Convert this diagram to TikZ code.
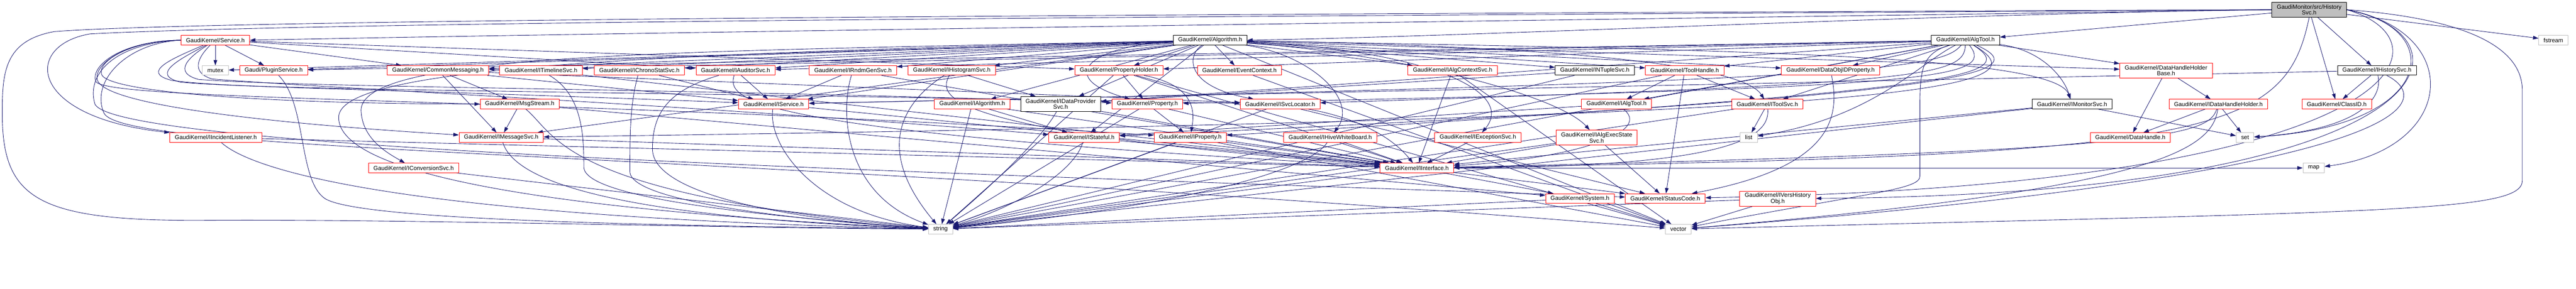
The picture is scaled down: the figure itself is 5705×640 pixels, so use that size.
\documentclass[tikz,border=0pt]{standalone}
\usepackage{fontspec}
\setmainfont{Liberation Sans}
\usepackage{xcolor}
\usepackage{tikz}
\usetikzlibrary{arrows.meta}

\definecolor{edgeblue}{HTML}{191970}
\definecolor{boxred}{HTML}{FF0000}
\definecolor{boxgray}{HTML}{BFBFBF}

\pgfdeclarelayer{edges}
\pgfsetlayers{edges,main}

\begin{document}
\begin{tikzpicture}[
        x=1pt, y=-1pt,
        box/.style={rectangle, draw, fill=white, line width=1pt, font=\fontsize{13}{13}\selectfont, inner xsep=11pt, inner ysep=2pt, minimum height=21pt, align=center},
        redbox/.style={box, draw=boxred},
        blackbox/.style={box, draw=black},
        graybox/.style={box, draw=boxgray},
        rootbox/.style={box, draw=black, fill=boxgray},
        twoline/.style={minimum height=33pt},
        arrow/.style={-{Triangle[length=12pt,width=8pt]}, draw=edgeblue, line width=1pt}
    ]
        \path[use as bounding box] (0,0) rectangle (5705,640);

        % Nodes
        \node[rootbox, twoline] (hist) at (5114,21.5) {GaudiMonitor/src/History\\Svc.h};
        \node[redbox] (svc) at (477,89) {GaudiKernel/Service.h};
        \node[blackbox] (alg) at (2680,89) {GaudiKernel/Algorithm.h};
        \node[blackbox] (algtool) at (4353,89) {GaudiKernel/AlgTool.h};
        \node[graybox] (fstream) at (5655,89) {fstream};

        \node[graybox] (mutex) at (477,156) {mutex};
        \node[redbox] (plugin) at (606,156) {Gaudi/PluginService.h};
        \node[redbox] (commsg) at (970,156) {GaudiKernel/CommonMessaging.h};
        \node[redbox] (itimeline) at (1198,156) {GaudiKernel/ITimelineSvc.h};
        \node[redbox] (ichrono) at (1416,156) {GaudiKernel/IChronoStatSvc.h};
        \node[redbox] (iauditor) at (1629,156) {GaudiKernel/IAuditorSvc.h};
        \node[redbox] (irndm) at (1889,156) {GaudiKernel/IRndmGenSvc.h};
        \node[redbox] (ihisto) at (2108,156) {GaudiKernel/IHistogramSvc.h};
        \node[redbox] (propholder) at (2478,156) {GaudiKernel/PropertyHolder.h};
        \node[redbox] (evtctx) at (2745,156) {GaudiKernel/EventContext.h};
        \node[redbox] (ialgctx) at (3217,156) {GaudiKernel/IAlgContextSvc.h};
        \node[blackbox] (intuple) at (3532,156) {GaudiKernel/INTupleSvc.h};
        \node[redbox] (toolhandle) at (3731,156) {GaudiKernel/ToolHandle.h};
        \node[redbox] (dataobjid) at (4054,156) {GaudiKernel/DataObjIDProperty.h};
        \node[redbox, twoline] (dhhbase) at (4797,156.5) {GaudiKernel/DataHandleHolder\\Base.h};
        \node[blackbox] (ihistsvc) at (5264,156) {GaudiKernel/IHistorySvc.h};

        \node[redbox] (msgstream) at (1151,230.5) {GaudiKernel/MsgStream.h};
        \node[redbox] (iservice) at (1713,230.5) {GaudiKernel/IService.h};
        \node[redbox] (ialgorithm) at (2153,230.5) {GaudiKernel/IAlgorithm.h};
        \node[blackbox, twoline] (idataprov) at (2349,230.5) {GaudiKernel/IDataProvider\\Svc.h};
        \node[redbox] (property) at (2541,230.5) {GaudiKernel/Property.h};
        \node[redbox] (isvcloc) at (2835,230.5) {GaudiKernel/ISvcLocator.h};
        \node[redbox] (ialgtool) at (3580,230.5) {GaudiKernel/IAlgTool.h};
        \node[redbox] (itoolsvc) at (3914,230.5) {GaudiKernel/IToolSvc.h};
        \node[blackbox] (imonitor) at (4589,230.5) {GaudiKernel/IMonitorSvc.h};
        \node[redbox] (idhholder) at (4913,230.5) {GaudiKernel/IDataHandleHolder.h};
        \node[redbox] (classid) at (5175,230.5) {GaudiKernel/ClassID.h};

        \node[redbox] (iincident) at (478,304.5) {GaudiKernel/IIncidentListener.h};
        \node[redbox] (imsgsvc) at (1110,304.5) {GaudiKernel/IMessageSvc.h};
        \node[redbox] (istateful) at (2401,304.5) {GaudiKernel/IStateful.h};
        \node[redbox] (iproperty) at (2636,304.5) {GaudiKernel/IProperty.h};
        \node[redbox] (ihive) at (2946,304.5) {GaudiKernel/IHiveWhiteBoard.h};
        \node[redbox] (iexcept) at (3273,304.5) {GaudiKernel/IExceptionSvc.h};
        \node[redbox, twoline] (iexecstate) at (3536,305) {GaudiKernel/IAlgExecState\\Svc.h};
        \node[graybox] (list) at (3873,304.5) {list};
        \node[redbox] (datahandle) at (4718,304.5) {GaudiKernel/DataHandle.h};
        \node[graybox] (set) at (4972,304.5) {set};

        \node[redbox] (iconv) at (916,372) {GaudiKernel/IConversionSvc.h};
        \node[redbox] (iinterface) at (3138,372) {GaudiKernel/IInterface.h};
        \node[graybox] (map) at (5124,372) {map};

        \node[redbox] (system) at (3499,439.5) {GaudiKernel/System.h};
        \node[redbox] (statuscode) at (3688,439.5) {GaudiKernel/StatusCode.h};
        \node[redbox, twoline] (ivershist) at (3937,440) {GaudiKernel/IVersHistory\\Obj.h};

        \node[graybox] (string) at (2083,507.5) {string};
        \node[graybox] (vector) at (3717,507.5) {vector};

        % Arrows
        \begin{pgfonlayer}{edges}
        \draw[arrow] (hist.west) .. controls (3800,40) and (1500,70) .. (svc.east);
        \draw[arrow] (hist.west) .. controls (4300,30) and (3300,80) .. (alg.east);
        \draw[arrow] (hist) -- (algtool);
        \draw[arrow] (hist) -- (fstream);
        \draw[arrow] (hist) -- (ihistsvc);
        \draw[arrow] (hist) -- (classid);
        \draw[arrow] (hist.east) .. controls (5420,60) and (5400,280) .. (set);
        \draw[arrow] (hist.east) .. controls (5460,70) and (5440,330) .. (map);
        \draw[arrow] (hist.east) .. controls (5500,80) and (5430,430) .. (ivershist);
        \draw[arrow] (hist.east) .. controls (5440,90) and (5350,410) .. (statuscode);
        \draw[arrow] (hist.east) .. controls (5450,40) and (5586,100) .. (5586,200) -- (5586,400) .. controls (5586,470) and (5300,468) .. (vector);
        \draw[arrow] (hist.south) .. controls (5060,300) and (4900,345) .. (iinterface);
        \draw[arrow] (hist.west) .. controls (3000,35) and (800,45) .. (200,75) .. controls (50,100) and (60,260) .. (iincident);
        \draw[arrow] (hist.west) .. controls (3000,30) and (500,40) .. (120,70) .. controls (10,90) and (5,160) .. (5,250) .. controls (5,440) and (80,490) .. (450,488) .. controls (900,485) and (1600,505) .. (string);

        \draw[arrow] (svc) -- (mutex);
        \draw[arrow] (svc) -- (plugin);
        \draw[arrow] (svc) -- (commsg);
        \draw[arrow] (svc) -- (iauditor);
        \draw[arrow] (svc) -- (propholder);
        \draw[arrow] (svc) .. controls (380,130) and (310,160) .. (380,178) .. controls (500,195) and (800,195) .. (iservice);
        \draw[arrow] (svc) .. controls (400,130) and (330,165) .. (400,182) .. controls (600,200) and (1200,200) .. (isvcloc);
        \draw[arrow] (svc) .. controls (420,125) and (380,160) .. (440,176) .. controls (700,195) and (1500,195) .. (property);
        \draw[arrow] (svc) .. controls (440,125) and (420,160) .. (470,175) .. controls (800,200) and (1500,230) .. (istateful);
        \draw[arrow] (svc.west) .. controls (290,90) and (215,135) .. (225,165) .. controls (240,205) and (600,230) .. (msgstream);
        \draw[arrow] (svc.west) .. controls (280,90) and (210,140) .. (215,175) .. controls (225,240) and (700,280) .. (imsgsvc);
        \draw[arrow] (svc.west) .. controls (270,90) and (200,145) .. (212,180) .. controls (230,225) and (1200,215) .. (iproperty);
        \draw[arrow] (svc.west) .. controls (260,95) and (190,160) .. (210,230) .. controls (250,330) and (2000,380) .. (statuscode);
        \draw[arrow] (svc.west) .. controls (280,95) and (200,180) .. (230,250) .. controls (270,340) and (1500,330) .. (vector);

        \draw[arrow] (alg) -- (mutex);
        \draw[arrow] (alg) -- (plugin);
        \draw[arrow] (alg) -- (commsg);
        \draw[arrow] (alg) -- (itimeline);
        \draw[arrow] (alg) -- (ichrono);
        \draw[arrow] (alg) -- (iauditor);
        \draw[arrow] (alg) -- (irndm);
        \draw[arrow] (alg) -- (ihisto);
        \draw[arrow] (alg) -- (propholder);
        \draw[arrow] (alg) -- (evtctx);
        \draw[arrow] (alg) -- (ialgctx);
        \draw[arrow] (alg) -- (intuple);
        \draw[arrow] (alg) -- (toolhandle);
        \draw[arrow] (alg) -- (dataobjid);
        \draw[arrow] (alg) -- (dhhbase);
        \draw[arrow] (alg) -- (ialgorithm);
        \draw[arrow] (alg) -- (idataprov);
        \draw[arrow] (alg) .. controls (2420,100) and (2330,170) .. (property);
        \draw[arrow] (alg) .. controls (2630,120) and (2620,190) .. (isvcloc);
        \draw[arrow] (alg) -- (iservice);
        \draw[arrow] (alg) -- (imsgsvc);
        \draw[arrow] (alg) -- (istateful);
        \draw[arrow] (alg) .. controls (3300,100) and (3850,130) .. (itoolsvc);
        \draw[arrow] (alg) .. controls (3800,110) and (4550,120) .. (imonitor);
        \draw[arrow] (alg) .. controls (2900,120) and (3010,220) .. (ihive);
        \draw[arrow] (alg) .. controls (3150,110) and (3360,200) .. (iexcept);
        \draw[arrow] (alg) .. controls (3100,120) and (3450,210) .. (iexecstate);
        \draw[arrow] (alg) .. controls (1500,115) and (780,115) .. (800,250) .. controls (805,310) and (860,340) .. (iconv);
        \draw[arrow] (alg) .. controls (1400,120) and (750,150) .. (750,260) .. controls (750,420) and (1500,480) .. (string);
        \draw[arrow] (alg) -- (vector);

        \draw[arrow] (algtool) -- (plugin);
        \draw[arrow] (algtool) -- (commsg);
        \draw[arrow] (algtool) -- (iauditor);
        \draw[arrow] (algtool) -- (propholder);
        \draw[arrow] (algtool) -- (toolhandle);
        \draw[arrow] (algtool) -- (dataobjid);
        \draw[arrow] (algtool) -- (dhhbase);
        \draw[arrow] (algtool) -- (ialgtool);
        \draw[arrow] (algtool) -- (itoolsvc);
        \draw[arrow] (algtool) -- (idataprov);
        \draw[arrow] (algtool) .. controls (4520,110) and (4570,170) .. (imonitor);
        \draw[arrow] (algtool) .. controls (4350,170) and (4260,185) .. (isvcloc);
        \draw[arrow] (algtool) .. controls (4420,175) and (4300,195) .. (property);
        \draw[arrow] (algtool) .. controls (4480,170) and (4350,200) .. (iproperty);
        \draw[arrow] (algtool) .. controls (4510,160) and (4400,215) .. (istateful);
        \draw[arrow] (algtool) .. controls (4300,150) and (4200,180) .. (iservice);
        \draw[arrow] (algtool) .. controls (4520,190) and (4400,260) .. (imsgsvc);
        \draw[arrow] (algtool) .. controls (4250,140) and (4150,260) .. (list);
        \draw[arrow] (algtool) .. controls (4252,120) and (4252,160) .. (4252,250) -- (4252,390) .. controls (4252,420) and (4150,425) .. (vector);
        \draw[arrow] (algtool) -- (string);

        \draw[arrow] (plugin) .. controls (680,230) and (660,400) .. (720,440) .. controls (800,490) and (1500,500) .. (string);
        \draw[arrow] (commsg) -- (msgstream);
        \draw[arrow] (commsg) -- (imsgsvc);
        \draw[arrow] (commsg) -- (iservice);
        \draw[arrow] (commsg) -- (isvcloc);
        \draw[arrow] (itimeline) .. controls (1290,210) and (1293,300) .. (1293,370) .. controls (1293,440) and (1700,480) .. (string);
        \draw[arrow] (itimeline) -- (iinterface);
        \draw[arrow] (ichrono) .. controls (1395,230) and (1395,300) .. (1395,380) .. controls (1395,450) and (1800,490) .. (string);
        \draw[arrow] (ichrono) -- (iservice);
        \draw[arrow] (iauditor) -- (iservice);
        \draw[arrow] (iauditor) .. controls (1480,200) and (1445,250) .. (1445,330) .. controls (1445,440) and (1800,490) .. (string);
        \draw[arrow] (iauditor) .. controls (1610,220) and (1640,290) .. (iinterface);
        \draw[arrow] (irndm) -- (iservice);
        \draw[arrow] (irndm) .. controls (1860,250) and (1870,430) .. (string);
        \draw[arrow] (irndm) -- (iinterface);
        \draw[arrow] (ihisto) -- (idataprov);
        \draw[arrow] (ihisto) .. controls (2040,200) and (1910,300) .. (string);
        \draw[arrow] (ihisto) .. controls (2080,210) and (2060,290) .. (iinterface);
        \draw[arrow] (propholder) -- (property);
        \draw[arrow] (propholder) .. controls (2650,190) and (2645,250) .. (iproperty);
        \draw[arrow] (propholder) -- (iinterface);
        \draw[arrow] (propholder) -- (vector);
        \draw[arrow] (propholder) -- (string);
        \draw[arrow] (evtctx) -- (vector);
        \draw[arrow] (ialgctx) -- (iinterface);
        \draw[arrow] (ialgctx) -- (vector);
        \draw[arrow] (intuple) -- (idataprov);
        \draw[arrow] (intuple) -- (string);
        \draw[arrow] (toolhandle) -- (ialgtool);
        \draw[arrow] (toolhandle) -- (itoolsvc);
        \draw[arrow] (toolhandle) -- (statuscode);
        \draw[arrow] (toolhandle) -- (string);
        \draw[arrow] (dataobjid) .. controls (4075,260) and (4060,370) .. (statuscode);
        \draw[arrow] (dhhbase) -- (idhholder);
        \draw[arrow] (dhhbase) -- (datahandle);
        \draw[arrow] (ihistsvc) -- (classid);
        \draw[arrow] (ihistsvc) .. controls (5280,230) and (5200,290) .. (set);
        \draw[arrow] (ihistsvc) .. controls (5390,220) and (5390,380) .. (vector);
        \draw[arrow] (ihistsvc) -- (iservice);
        \draw[arrow] (msgstream) -- (imsgsvc);
        \draw[arrow] (msgstream) .. controls (1235,300) and (1240,430) .. (string);
        \draw[arrow] (msgstream) -- (system);
        \draw[arrow] (iservice) .. controls (1700,320) and (1800,470) .. (string);
        \draw[arrow] (iservice) -- (iinterface);
        \draw[arrow] (ialgorithm) -- (string);
        \draw[arrow] (ialgorithm) -- (istateful);
        \draw[arrow] (ialgorithm) -- (iinterface);
        \draw[arrow] (idataprov) .. controls (2300,320) and (2150,450) .. (string);
        \draw[arrow] (idataprov) -- (iinterface);
        \draw[arrow] (property) -- (iproperty);
        \draw[arrow] (property) -- (string);
        \draw[arrow] (property) -- (iinterface);
        \draw[arrow] (isvcloc) .. controls (3000,260) and (3080,300) .. (iinterface);
        \draw[arrow] (isvcloc) -- (string);
        \draw[arrow] (isvcloc) -- (statuscode);
        \draw[arrow] (ialgtool) -- (istateful);
        \draw[arrow] (ialgtool) .. controls (3660,290) and (3500,350) .. (iinterface);
        \draw[arrow] (itoolsvc) -- (list);
        \draw[arrow] (itoolsvc) .. controls (3920,300) and (3850,370) .. (iinterface);
        \draw[arrow] (itoolsvc) -- (string);
        \draw[arrow] (imonitor) -- (iinterface);
        \draw[arrow] (imonitor) -- (string);
        \draw[arrow] (imonitor) -- (set);
        \draw[arrow] (idhholder) -- (set);
        \draw[arrow] (idhholder) -- (datahandle);
        \draw[arrow] (idhholder) .. controls (4890,300) and (4800,335) .. (iinterface);
        \draw[arrow] (idhholder) .. controls (4900,330) and (4780,420) .. (vector);
        \draw[arrow] (iincident) -- (iinterface);
        \draw[arrow] (iincident) .. controls (560,380) and (900,480) .. (string);
        \draw[arrow] (imsgsvc) -- (iinterface);
        \draw[arrow] (imsgsvc) .. controls (1140,400) and (1350,480) .. (string);
        \draw[arrow] (istateful) -- (iinterface);
        \draw[arrow] (istateful) .. controls (2380,380) and (2250,460) .. (string);
        \draw[arrow] (iproperty) -- (iinterface);
        \draw[arrow] (iproperty) -- (string);
        \draw[arrow] (iproperty) -- (vector);
        \draw[arrow] (ihive) -- (iinterface);
        \draw[arrow] (ihive) .. controls (2900,380) and (2600,460) .. (string);
        \draw[arrow] (iexcept) -- (iinterface);
        \draw[arrow] (iexecstate) -- (statuscode);
        \draw[arrow] (iexecstate) -- (iinterface);
        \draw[arrow] (iexecstate) -- (string);
        \draw[arrow] (iconv) -- (string);
        \draw[arrow] (iinterface) -- (system);
        \draw[arrow] (iinterface) -- (statuscode);
        \draw[arrow] (iinterface) -- (string);
        \draw[arrow] (iinterface) -- (map);
        \draw[arrow] (system) -- (vector);
        \draw[arrow] (system) -- (string);
        \draw[arrow] (ivershist) -- (string);
        \draw[arrow] (ivershist) -- (vector);
        \end{pgfonlayer}
    \end{tikzpicture}
\end{document}
